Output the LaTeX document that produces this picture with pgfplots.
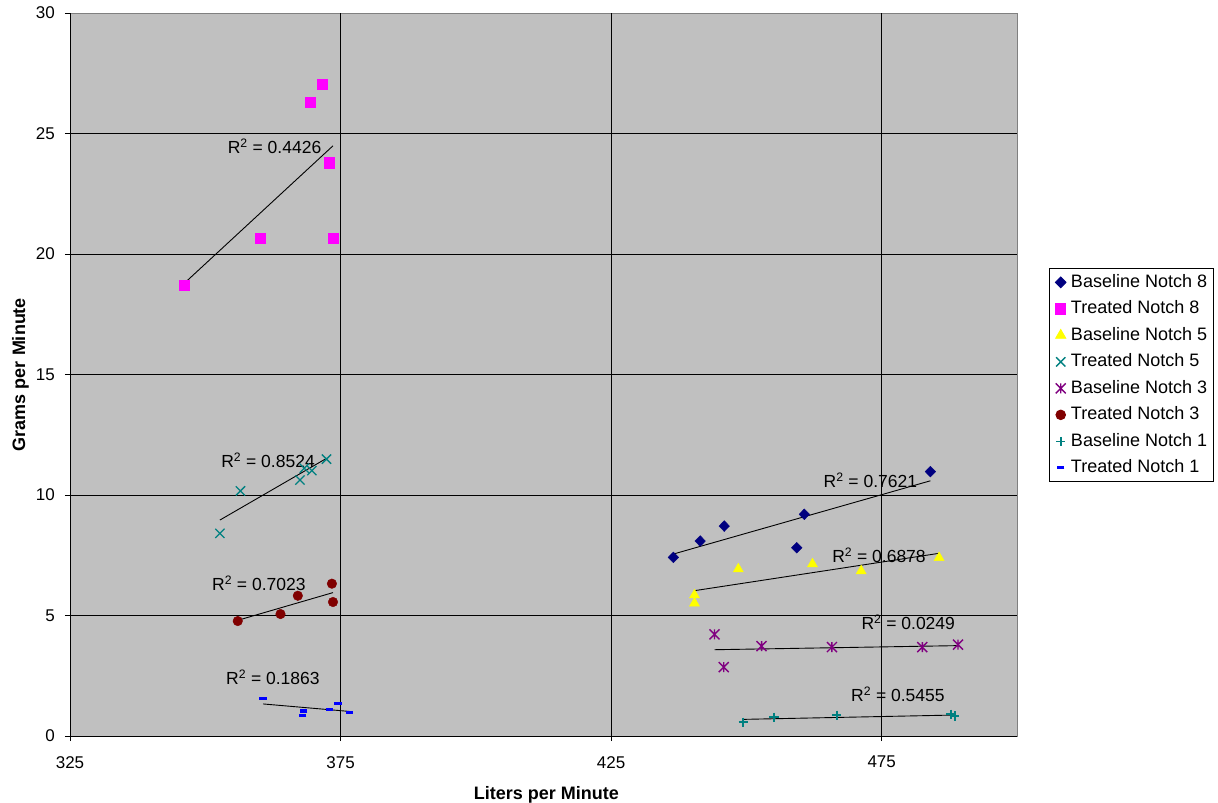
\documentclass[border=0pt]{standalone}
\usepackage{pgfplots}
\pgfplotsset{compat=1.18}
\usepackage{fontspec}
\setmainfont{Liberation Sans}
\definecolor{xlnavy}{HTML}{000080}
\definecolor{xlmag}{HTML}{FF00FF}
\definecolor{xlyel}{HTML}{FFFF00}
\definecolor{xlteal}{HTML}{008080}
\definecolor{xlpurp}{HTML}{800080}
\definecolor{xlred}{HTML}{800000}
\definecolor{xlblue}{HTML}{0000FF}
\definecolor{xlgray}{HTML}{C0C0C0}
\definecolor{xlborder}{HTML}{808080}
\pgfdeclareplotmark{xstar}{%
  \pgfpathmoveto{\pgfqpoint{-\pgfplotmarksize}{-\pgfplotmarksize}}%
  \pgfpathlineto{\pgfqpoint{\pgfplotmarksize}{\pgfplotmarksize}}%
  \pgfpathmoveto{\pgfqpoint{-\pgfplotmarksize}{\pgfplotmarksize}}%
  \pgfpathlineto{\pgfqpoint{\pgfplotmarksize}{-\pgfplotmarksize}}%
  \pgfpathmoveto{\pgfqpoint{0pt}{-\pgfplotmarksize}}%
  \pgfpathlineto{\pgfqpoint{0pt}{\pgfplotmarksize}}%
  \pgfusepathqstroke}
\begin{document}
\begin{tikzpicture}
\begin{axis}[
  scale only axis, width=947pt, height=723pt,
  xmin=325, xmax=500, ymin=0, ymax=30,
  axis lines=left, axis line style={-, black, line width=0.9pt},
  axis background/.style={fill=xlgray, draw=xlborder, line width=0.9pt},
  xtick={325,375,425,475}, ytick={0,5,...,25},
  extra y ticks={30}, extra y tick style={grid=none},
  grid=major, grid style={black, line width=0.9pt},
  tick align=outside, major tick length=5pt, tick style={black, line width=0.9pt},
  /pgf/number format/assume math mode=true,
  ticklabel style={font=\fontsize{17}{20}\selectfont},
  xticklabel style={inner sep=0pt, anchor=north, yshift=-15pt},
  yticklabel style={inner sep=0pt, anchor=east, xshift=-10pt},
  xlabel={Liters per Minute},
  ylabel={Grams per Minute},
  xlabel style={font=\bfseries\fontsize{18}{21}\selectfont, at={(axis description cs:0.503,-0.0876)}, anchor=base},
  ylabel style={font=\bfseries\fontsize{18}{21}\selectfont, at={(axis description cs:-0.0475,0.5)}, anchor=base},
  legend style={at={(axis description cs:1.0338,0.6473)}, anchor=north west,
    draw=black, fill=white, line width=0.9pt,
    font=\fontsize{18}{21}\selectfont,
    inner xsep=6pt, inner ysep=6pt, row sep=10.7pt,
    nodes={inner sep=0pt, text height=12.8pt, text depth=3pt},
    /tikz/every odd column/.append style={column sep=5pt}},
  legend cell align=left,
  legend image code/.code={\draw[#1] plot coordinates {(0pt,0pt)};},
]
\addplot[only marks, mark=diamond*, mark size=5.4pt, mark options={xscale=1.3}, color=xlnavy] coordinates {
(436.5,7.41) (441.45,8.09) (445.9,8.71) (459.3,7.81) (460.7,9.20) (484.0,10.97)};
\addlegendentry{Baseline Notch 8}
\addplot[only marks, mark=square*, mark size=5.2pt, color=xlmag] coordinates {
(346.1,18.71) (360.1,20.66) (369.4,26.31) (371.6,27.05) (372.9,23.78) (373.6,20.66)};
\addlegendentry{Treated Notch 8}
\addplot[only marks, mark=triangle*, mark size=5.8pt, color=xlyel] coordinates {
(440.4,5.51) (440.4,5.85) (448.5,6.93) (462.2,7.14) (471.2,6.85) (485.6,7.40)};
\addlegendentry{Baseline Notch 5}
\addplot[only marks, mark=x, mark size=6.5pt, line width=1.3pt, color=xlteal] coordinates {
(352.7,8.41) (356.5,10.17) (367.5,10.62) (368.3,11.11) (369.7,11.01) (372.4,11.49)};
\addlegendentry{Treated Notch 5}
\addplot[only marks, mark=xstar, mark size=5pt, line width=1.4pt, color=xlpurp] coordinates {
(444.1,4.22) (445.8,2.86) (452.8,3.73) (465.8,3.69) (482.5,3.69) (489.1,3.79)};
\addlegendentry{Baseline Notch 3}
\addplot[only marks, mark=*, mark size=4.8pt, color=xlred] coordinates {
(356.0,4.77) (363.9,5.06) (367.1,5.82) (373.4,6.32) (373.6,5.56)};
\addlegendentry{Treated Notch 3}
\addplot[only marks, mark=+, mark size=4.6pt, line width=1.7pt, color=xlteal] coordinates {
(449.4,0.57) (455.1,0.78) (466.7,0.86) (487.8,0.90) (488.5,0.83)};
\addlegendentry{Baseline Notch 1}
\addplot[only marks, mark=-, mark size=3.7pt, line width=3.2pt, color=xlblue] coordinates {
(360.7,1.56) (368.0,0.84) (368.2,1.04) (373.0,1.11) (374.5,1.34) (376.6,0.98)};
\addlegendentry{Treated Notch 1}
% trendlines
\addplot[black, line width=0.9pt, forget plot] coordinates {(436.5,7.55) (484.0,10.59)};
\addplot[black, line width=0.9pt, forget plot] coordinates {(346.1,18.78) (373.6,24.49)};
\addplot[black, line width=0.9pt, forget plot] coordinates {(440.4,6.03) (485.6,7.58)};
\addplot[black, line width=0.9pt, forget plot] coordinates {(352.7,8.96) (372.4,11.52)};
\addplot[black, line width=0.9pt, forget plot] coordinates {(444.1,3.58) (489.1,3.75)};
\addplot[black, line width=0.9pt, forget plot] coordinates {(356.0,4.80) (373.6,5.95)};
\addplot[black, line width=0.9pt, forget plot] coordinates {(449.4,0.69) (488.5,0.87)};
\addplot[black, line width=0.9pt, forget plot] coordinates {(360.7,1.33) (376.6,1.02)};
\begin{scope}[every node/.style={font=\fontsize{17.5}{20}\selectfont, inner sep=0pt}]
\node at (axis cs:362.8,24.48) {R\textsuperscript{2} = 0.4426};
\node at (axis cs:361.6,11.45) {R\textsuperscript{2} = 0.8524};
\node at (axis cs:359.9,6.35) {R\textsuperscript{2} = 0.7023};
\node at (axis cs:362.5,2.45) {R\textsuperscript{2} = 0.1863};
\node at (axis cs:472.9,10.62) {R\textsuperscript{2} = 0.7621};
\node at (axis cs:474.5,7.51) {R\textsuperscript{2} = 0.6878};
\node at (axis cs:479.9,4.73) {R\textsuperscript{2} = 0.0249};
\node at (axis cs:478.0,1.74) {R\textsuperscript{2} = 0.5455};
\end{scope}
\coordinate (bl) at (rel axis cs:0,0);
\end{axis}
\pgfresetboundingbox
\path[use as bounding box] (bl) ++(-70pt,-67pt) rectangle ++(1218pt,803pt);
\end{tikzpicture}
\end{document}
